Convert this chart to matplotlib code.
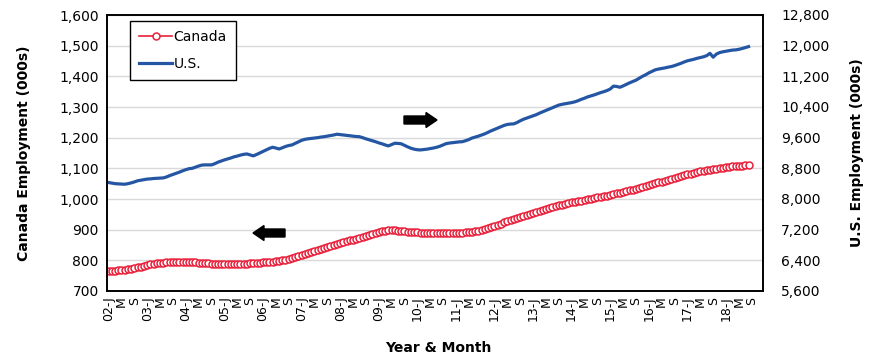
import numpy as np
import matplotlib.pyplot as plt
from matplotlib.patches import Polygon
from matplotlib.ticker import FuncFormatter

plt.rcParams['font.family'] = 'DejaVu Sans'

# monthly employment (000s), Jan 2002 onwards
canada = [
    764, 765, 766, 767, 768, 769, 771, 773, 775, 777, 779, 782,          # 2002
    785, 787, 789, 790, 791, 792, 793, 794, 794, 795, 795, 795,          # 2003
    795, 794, 794, 793, 792, 791, 790, 790, 789, 788, 788, 787,          # 2004
    787, 787, 787, 787, 788, 788, 789, 789, 790, 791, 791, 792,          # 2005
    793, 794, 795, 796, 797, 799, 800, 802, 805, 808, 811, 814,          # 2006
    818, 821, 824, 828, 831, 835, 838, 841, 844, 847, 850, 854,          # 2007
    857, 860, 862, 865, 867, 870, 873, 876, 879, 882, 886, 889,          # 2008
    892, 895, 897, 899, 899, 898, 897, 896, 895, 894, 893, 892,          # 2009
    891, 890, 889, 889, 888, 888, 888, 888, 888, 888, 888, 888,          # 2010
    889, 889, 890, 891, 892, 893, 895, 897, 900, 902, 905, 908,          # 2011
    912, 916, 920, 924, 928, 931, 935, 939, 942, 945, 948, 952,          # 2012
    955, 958, 961, 964, 967, 970, 973, 976, 979, 982, 985, 987,          # 2013
    989, 991, 993, 995, 997, 999, 1001, 1003, 1005, 1007, 1009, 1011,    # 2014
    1013, 1015, 1018, 1020, 1023, 1025, 1028, 1030, 1033, 1036, 1039, 1042,  # 2015
    1045, 1048, 1051, 1054, 1057, 1060, 1063, 1066, 1069, 1072, 1075, 1078,  # 2016
    1080, 1083, 1085, 1088, 1090, 1092, 1094, 1096, 1098, 1099, 1101, 1102,  # 2017
    1103, 1105, 1106, 1107, 1108, 1109, 1110, 1111,                      # 2018
]

us = [
    8430, 8415, 8400, 8395, 8390, 8385, 8400, 8420, 8445, 8475, 8490, 8505,
    8520, 8525, 8535, 8540, 8545, 8550, 8575, 8610, 8640, 8670, 8700, 8735,
    8765, 8790, 8800, 8830, 8860, 8885, 8890, 8890, 8890, 8920, 8960, 8990,
    9020, 9045, 9070, 9100, 9120, 9145, 9165, 9175, 9150, 9125, 9160, 9200,
    9240, 9280, 9320, 9350, 9330, 9305, 9335, 9370, 9395, 9410, 9450, 9490,
    9530, 9555, 9570, 9580, 9590, 9600, 9615, 9625, 9640, 9655, 9670, 9690,
    9680, 9670, 9660, 9650, 9640, 9630, 9625, 9600, 9570, 9545, 9520, 9495,
    9465, 9440, 9410, 9385, 9420, 9455, 9450, 9440, 9400, 9360, 9325, 9300,
    9285, 9280, 9290, 9300, 9315, 9330, 9350, 9375, 9410, 9445, 9460, 9470,
    9480, 9490, 9495, 9520, 9550, 9590, 9615, 9640, 9670, 9700, 9740, 9780,
    9815, 9850, 9885, 9920, 9945, 9955, 9960, 9995, 10040, 10080, 10110, 10140,
    10170, 10200, 10240, 10275, 10310, 10345, 10380, 10415, 10450, 10470, 10485, 10500,
    10515, 10535, 10565, 10600, 10630, 10665, 10690, 10715, 10745, 10775, 10800, 10830,
    10870, 10945, 10935, 10915, 10950, 10990, 11030, 11065, 11100, 11150, 11200, 11240,
    11290, 11330, 11370, 11390, 11405, 11420, 11440, 11455, 11480, 11510, 11540, 11575,
    11605, 11625, 11645, 11670, 11690, 11710, 11740, 11800, 11700, 11780, 11820, 11840,
    11855, 11870, 11885, 11890, 11905, 11925, 11950, 11975,
]

start_year = 2002
n_cats = 204          # Jan 2002 .. Dec 2018 on the category axis
month_letters = {0: 'J', 4: 'M', 8: 'S'}

red = '#E8203A'
blue = '#2456A4'

x = np.arange(len(canada))
tick_pos = np.arange(0, n_cats - 3, 4)
tick_labels = []
for p in tick_pos:
    m = p % 12
    if m == 0:
        tick_labels.append(f"{(start_year + p // 12) % 100:02d}-J")
    else:
        tick_labels.append(month_letters[m])

W, H = 870, 364
fig = plt.figure(figsize=(W / 100, H / 100), dpi=100)
ax = fig.add_axes([107 / W, 1 - 291 / H, 656 / W, 276 / H])
ax2 = ax.twinx()

l1, = ax.plot(x, canada, color=red, lw=1.2, marker='o', ms=5.0, mfc='white',
              mec=red, mew=1.1, label='Canada')
l2, = ax2.plot(x, us, color=blue, lw=2.3, label='U.S.')

comma = FuncFormatter(lambda v, p: f"{int(v):,}")
ax.set_ylim(700, 1600)
ax.set_yticks(range(700, 1601, 100))
ax.yaxis.set_major_formatter(comma)
ax2.set_ylim(5600, 12800)
ax2.set_yticks(range(5600, 12801, 800))
ax2.yaxis.set_major_formatter(comma)

ax.set_xlim(-0.5, n_cats - 0.5)
ax.set_xticks(tick_pos)
ax.set_xticklabels(tick_labels, rotation=90, fontsize=9)
ax.grid(axis='y', color='#D9D9D9', lw=1)
ax.set_axisbelow(True)

ax.tick_params(axis='both', length=0, labelsize=10, pad=6)
ax.tick_params(axis='x', pad=4, labelsize=9)
ax2.tick_params(axis='y', length=0, labelsize=10, pad=13)
for a in (ax, ax2):
    for s in a.spines.values():
        s.set_color('black')
        s.set_linewidth(1.2)

ax.set_ylabel('Canada Employment (000s)', fontsize=10, fontweight='bold')
ax.yaxis.set_label_coords(-0.116, 0.5)
ax2.set_ylabel('U.S. Employment (000s)', fontsize=10, fontweight='bold')
ax2.yaxis.set_label_coords(1.133, 0.5)
ax.set_xlabel('Year & Month', fontsize=10, fontweight='bold')
ax.xaxis.set_label_coords(0.505, -0.18)

leg = ax2.legend([l1, l2], ['Canada', 'U.S.'], loc='upper left',
                 bbox_to_anchor=(0.035, 0.978), borderaxespad=0,
                 fancybox=False, framealpha=1,
                 edgecolor='black', fontsize=10, handlelength=2.4,
                 labelspacing=0.95, borderpad=0.65, handletextpad=0.1)
leg.get_frame().set_linewidth(1.0)


def block_arrow(tip_x, tail_x, yc):
    # pixel coords (y measured from top), drawn in inches
    d = 1 if tail_x > tip_x else -1
    hb = tip_x + d * 11
    pts = [(tip_x, yc), (hb, yc - 7.5), (hb, yc - 4), (tail_x, yc - 4),
           (tail_x, yc + 4), (hb, yc + 4), (hb, yc + 7.5)]
    pts = [(px / 100, (H - py) / 100) for px, py in pts]
    fig.patches.append(Polygon(pts, closed=True, color='black',
                               transform=fig.dpi_scale_trans))


block_arrow(253, 285, 233)
block_arrow(437, 404, 120)

fig.savefig('out.png', dpi=100)
